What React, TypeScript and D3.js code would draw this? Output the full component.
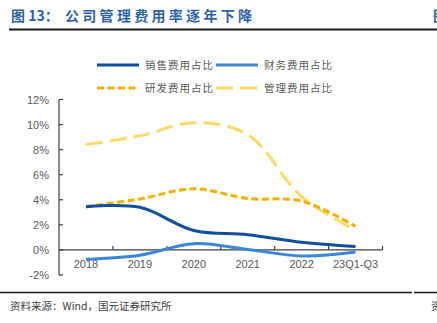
import React from "react";
import * as d3 from "d3";

const categories = ["2018", "2019", "2020", "2021", "2022", "23Q1-Q3"];
const salesRatio = [3.45, 3.4, 1.55, 1.22, 0.62, 0.28];
const financeRatio = [-0.75, -0.42, 0.5, 0.04, -0.48, -0.17];
const rdRatio = [3.46, 4.07, 4.88, 4.1, 3.9, 1.88];
const adminRatio = [8.4, 9.1, 10.15, 9.2, 4.25, 1.57];
const yTicks = [-2, 0, 2, 4, 6, 8, 10, 12];

const series = [
  { name: "销售费用占比", values: salesRatio, color: "#114f9f", dash: "", lx: 97, ly: 65 },
  { name: "财务费用占比", values: financeRatio, color: "#3b87d5", dash: "", lx: 216, ly: 65 },
  { name: "研发费用占比", values: rdRatio, color: "#f5b100", dash: "7 3.5", lx: 97, ly: 88 },
  { name: "管理费用占比", values: adminRatio, color: "#ffd966", dash: "17 7", lx: 216, ly: 88 },
];

export default function App() {
  const W = 437, H = 323;
  const x = d3.scaleBand<string>().domain(categories).range([59, 382.5]);
  const y = d3.scaleLinear().domain([-2, 12]).range([275, 99.5]);
  const cx = (c: string) => (x(c) as number) + x.bandwidth() / 2;
  const line = d3
    .line<number>()
    .x((_, i) => cx(categories[i]))
    .y((d) => y(d))
    .curve(d3.curveCatmullRom.alpha(0.5));
  const axisColor = "#3f3f3f";
  const labelColor = "#595959";
  const cjk = "'Noto Sans CJK SC', sans-serif";
  return (
    <svg
      width={W}
      height={H}
      style={{ position: "absolute", left: 0, top: 0, background: "#fff" }}
    >
      <text x={11} y={21} fill="#2d62aa" fontFamily={cjk} fontWeight="bold" fontSize={14}>
        图 13：
      </text>
      <text x={65} y={21} fill="#2d62aa" fontFamily={cjk} fontWeight="bold" fontSize={14} letterSpacing={3.3}>
        公司管理费用率逐年下降
      </text>
      <text x={433} y={21} fill="#2d62aa" fontFamily={cjk} fontWeight="bold" fontSize={14}>
        图
      </text>
      <line x1={9} x2={437} y1={29.5} y2={29.5} stroke="#1a1a1a" strokeWidth={2} />

      {series.map((s) => (
        <g key={"lg" + s.name}>
          <line
            x1={s.lx}
            x2={s.lx + 42}
            y1={s.ly}
            y2={s.ly}
            stroke={s.color}
            strokeWidth={3}
            strokeDasharray={s.dash}
          />
          <text x={s.lx + 48} y={s.ly + 4} fontSize={10.5} fill={labelColor} fontFamily={cjk} letterSpacing={1}>
            {s.name}
          </text>
        </g>
      ))}

      {/* y axis */}
      <line x1={59} x2={59} y1={y(12)} y2={y(-2)} stroke={axisColor} strokeWidth={1.2} />
      {yTicks.map((t) => (
        <g key={"yt" + t}>
          <line x1={59} x2={63} y1={y(t)} y2={y(t)} stroke={axisColor} strokeWidth={1.2} />
          <text
            x={49}
            y={y(t) + 4}
            textAnchor="end"
            fontSize={11}
            fill={labelColor}
            fontFamily="'Liberation Sans', Arial, sans-serif"
          >
            {t}%
          </text>
        </g>
      ))}

      {/* x axis */}
      <line x1={59} x2={382.5} y1={y(0)} y2={y(0)} stroke={axisColor} strokeWidth={1.2} />
      {categories.map((c) => (
        <g key={"xt" + c}>
          <line
            x1={(x(c) as number) + x.bandwidth()}
            x2={(x(c) as number) + x.bandwidth()}
            y1={y(0)}
            y2={y(0) - 4}
            stroke={axisColor}
            strokeWidth={1.2}
          />
          <text
            x={cx(c)}
            y={268}
            textAnchor="middle"
            fontSize={11}
            fill={labelColor}
            fontFamily="'Liberation Sans', Arial, sans-serif"
          >
            {c}
          </text>
        </g>
      ))}

      {[...series].reverse().map((s) => (
        <path
          key={"ln" + s.name}
          d={line(s.values) || ""}
          fill="none"
          stroke={s.color}
          strokeWidth={3}
          strokeDasharray={s.dash}
          strokeLinecap="butt"
        />
      ))}

      <line x1={0} x2={412} y1={292.5} y2={292.5} stroke="#1a1a1a" strokeWidth={1.5} />
      <line x1={414} x2={437} y1={292.5} y2={292.5} stroke="#1a1a1a" strokeWidth={1.5} />
      <text x={10} y={310} fontSize={10.5} fill="#404040" fontFamily={cjk}>
        资料来源：Wind，国元证券研究所
      </text>
      <text x={431} y={310} fontSize={10.5} fill="#404040" fontFamily={cjk}>
        资
      </text>
    </svg>
  );
}
